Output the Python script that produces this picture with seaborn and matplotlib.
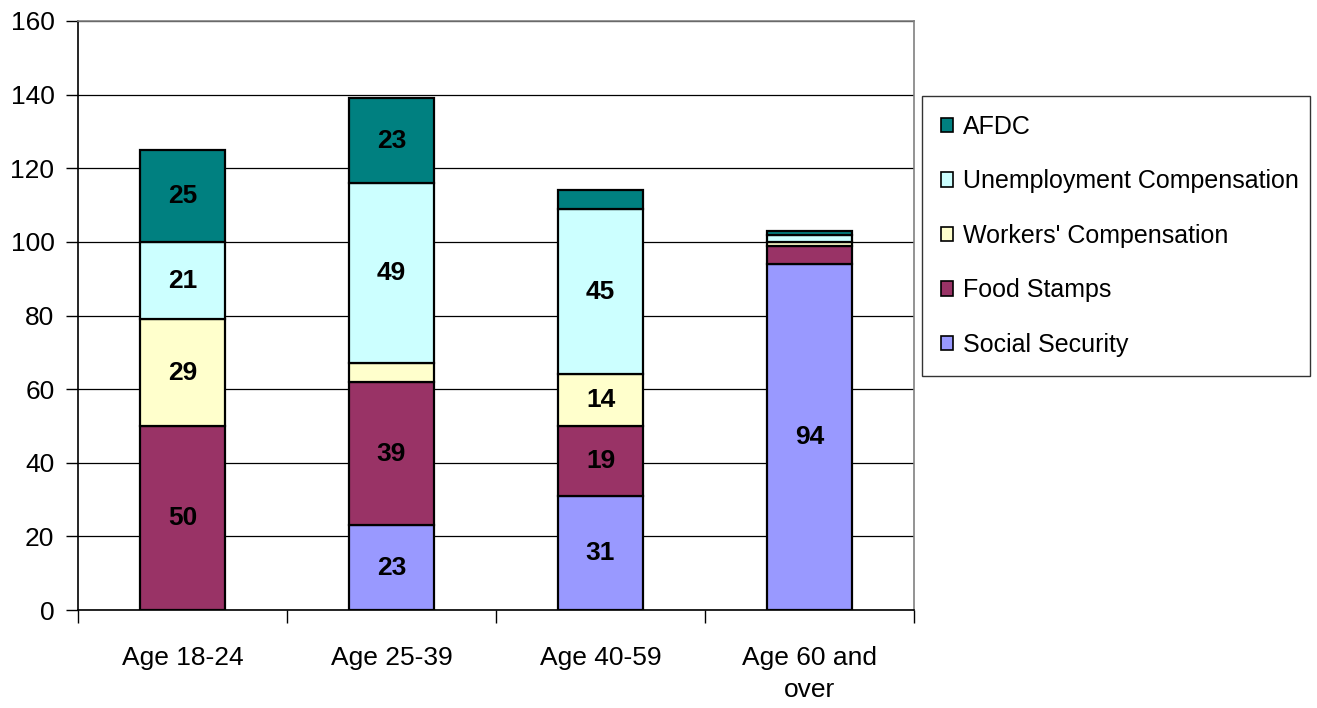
import matplotlib
matplotlib.use("Agg")
import matplotlib.pyplot as plt
import seaborn as sns
import pandas as pd
import numpy as np

categories = ["Age 18-24", "Age 25-39", "Age 40-59", "Age 60 and\nover"]
series_names = ["Social Security", "Food Stamps", "Workers' Compensation",
                "Unemployment Compensation", "AFDC"]
social_security = [0, 23, 31, 94]
food_stamps = [50, 39, 19, 5]
workers_comp = [29, 5, 14, 1]
unemployment_comp = [21, 49, 45, 2]
afdc = [25, 23, 5, 1]
colors = ["#9999FF", "#993366", "#FFFFCC", "#CCFFFF", "#008080"]
y_ticks = [0, 20, 40, 60, 80, 100, 120, 140, 160]

values = [social_security, food_stamps, workers_comp, unemployment_comp, afdc]

sns.set_theme(style="white")
plt.rcParams["font.family"] = ["Liberation Sans", "DejaVu Sans"]
plt.rcParams["text.color"] = "black"
plt.rcParams["xtick.color"] = "black"
plt.rcParams["ytick.color"] = "black"

fig = plt.figure(figsize=(13.17, 7.08), dpi=100)
ax = fig.add_axes([78 / 1317, 98 / 708, (914 - 78) / 1317, (610 - 21) / 708])

bottom = np.zeros(len(categories))
for name, vals, col in zip(series_names, values, colors):
    df = pd.DataFrame({"cat": categories, "val": vals})
    sns.barplot(data=df, x="cat", y="val", color=col, bottom=bottom,
                width=0.41, edgecolor="black", linewidth=1.6, ax=ax,
                saturation=1, label=name, zorder=3)
    for i, v in enumerate(vals):
        if v >= 10:
            ax.text(i, bottom[i] + v / 2, f"{v}", ha="center", va="center",
                    fontsize=19, fontweight="bold", color="black", zorder=5)
    bottom = bottom + np.array(vals)

h, l = ax.get_legend_handles_labels()
if ax.get_legend() is not None:
    ax.get_legend().remove()

ax.set_ylim(0, 160)
ax.set_xlim(-0.5, len(categories) - 0.5)
ax.set_yticks(y_ticks)
ax.set_yticklabels([str(t) for t in y_ticks], fontsize=19)
ax.set_xticks(range(len(categories)))
ax.set_xticklabels(categories, fontsize=19, linespacing=1.4)
ax.set_xticks(np.arange(-0.5, len(categories)), minor=True)
ax.tick_params(axis="x", which="major", length=0, pad=26)
ax.tick_params(axis="x", which="minor", length=9, width=1, color="black",
               direction="out", bottom=True)
ax.tick_params(axis="y", length=9, width=1, color="black", direction="out",
               left=True, pad=8)
ax.set_xlabel("")
ax.set_ylabel("")

ax.yaxis.grid(True, color="black", linewidth=0.9, zorder=0)
ax.set_axisbelow(True)
for s in ["left", "bottom"]:
    ax.spines[s].set_color("black")
    ax.spines[s].set_linewidth(1.2)
for s in ["top", "right"]:
    ax.spines[s].set_color("#808080")
    ax.spines[s].set_linewidth(1.2)

leg = fig.legend(h[::-1], l[::-1], loc="upper left",
                 bbox_to_anchor=(922 / 1317, 1 - 378 / 708, (1310 - 922) / 1317, (378 - 96) / 708),
                 bbox_transform=fig.transFigure,
                 mode="expand", fontsize=18, frameon=True, fancybox=False,
                 edgecolor="black", handlelength=0.5, handleheight=0.5,
                 handletextpad=0.4, labelspacing=1.22, borderpad=0.75,
                 borderaxespad=0)
leg.get_frame().set_linewidth(1.0)
for p in leg.get_patches():
    p.set_edgecolor("black")
    p.set_linewidth(1.2)

fig.savefig("out.png", dpi=100, facecolor="white")
